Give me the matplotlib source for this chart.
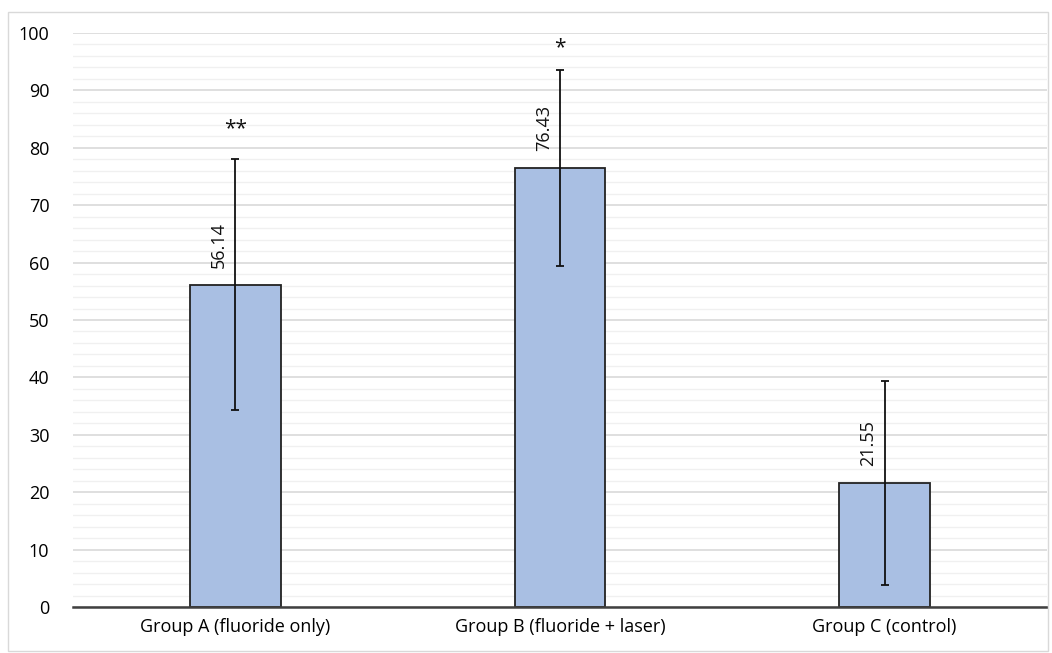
import matplotlib.pyplot as plt
from matplotlib.patches import Rectangle
from matplotlib.ticker import MultipleLocator

groups = ["Group A (fluoride only)", "Group B (fluoride + laser)", "Group C (control)"]
means = [56.14, 76.43, 21.55]
errors = [21.9, 17.1, 17.8]
stars = ["**", "*", ""]
star_y = [83.4, 97.4, 0]


def main() -> None:
    plt.rcParams["font.family"] = ["Open Sans", "DejaVu Sans"]
    fig = plt.figure(figsize=(10.52, 6.53), dpi=100)
    ax = fig.add_axes([73 / 1052, 46 / 653, 974 / 1052, 574 / 653])

    x = list(range(len(groups)))
    ax.bar(x, means, width=0.28, color="#a9bfe3", edgecolor="#222222", linewidth=1.3, zorder=3)
    ax.errorbar(x, means, yerr=errors, fmt="none", ecolor="#111111", elinewidth=1.3,
                capsize=3, capthick=1.3, zorder=4)

    for xi, m in zip(x, means):
        ax.text(xi - 0.05, m + 3, f"{m:.2f}", rotation=90, ha="center", va="bottom",
                fontsize=13, color="#111111", zorder=5)
    for xi, s, sy in zip(x, stars, star_y):
        if s:
            ax.text(xi, sy, s, ha="center", va="center", fontsize=15, color="#111111")

    ax.set_xlim(-0.5, 2.5)
    ax.set_ylim(0, 100)
    ax.yaxis.set_major_locator(MultipleLocator(10))
    ax.yaxis.set_minor_locator(MultipleLocator(2))
    ax.set_xticks(x)
    ax.set_xticklabels(groups, fontsize=13)
    ax.tick_params(axis="y", labelsize=13, length=0, pad=17, which="both")
    ax.tick_params(axis="x", length=0, pad=8)
    ax.grid(axis="y", which="major", color="#d9d9d9", linewidth=1.2, zorder=0)
    ax.grid(axis="y", which="minor", color="#f0f0f0", linewidth=1.0, zorder=0)
    for side in ["top", "right", "left"]:
        ax.spines[side].set_visible(False)
    ax.spines["bottom"].set_color("#404040")
    ax.spines["bottom"].set_linewidth(1.8)
    ax.spines["bottom"].set_zorder(5)

    fig.patches.append(Rectangle((8 / 1052, 2 / 653), 1040 / 1052, 639 / 653,
                                 transform=fig.transFigure, fill=False,
                                 edgecolor="#d9d9d9", linewidth=1.0))

    fig.savefig("out.png", dpi=100)


if __name__ == "__main__":
    main()
